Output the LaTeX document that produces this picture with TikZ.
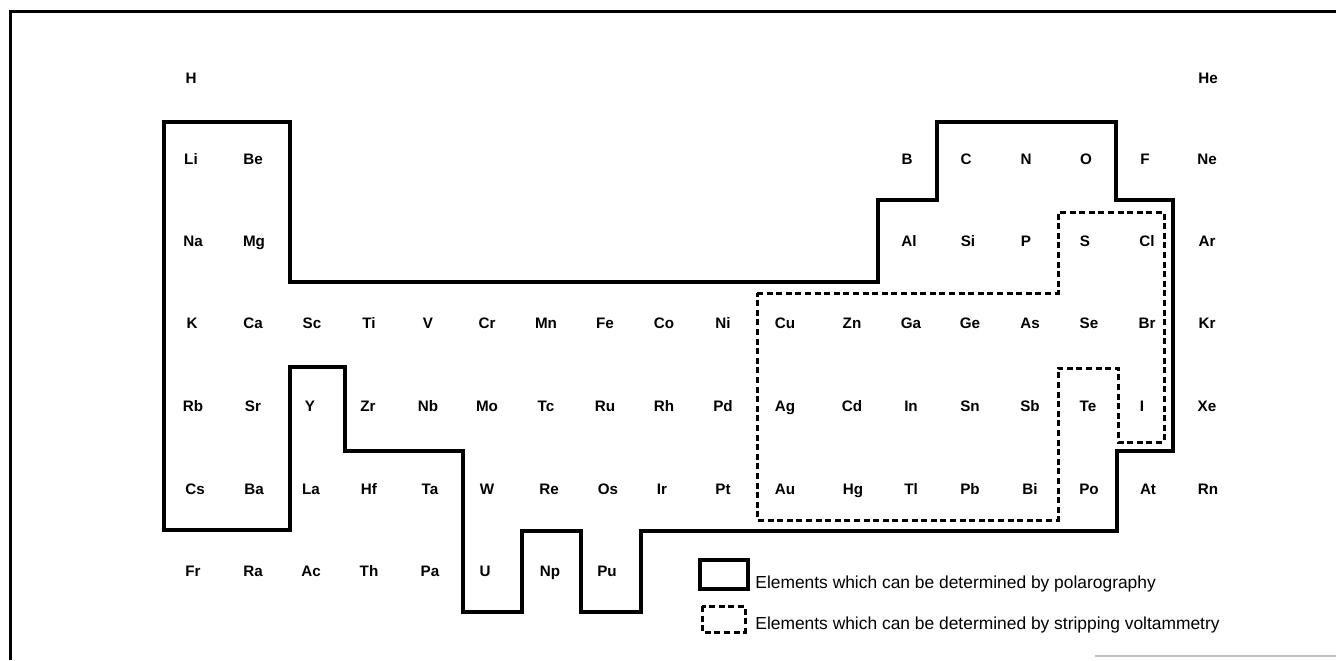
\documentclass[tikz,border=0pt]{standalone}
\usepackage{fontspec}
\setmainfont{Liberation Sans}

\begin{document}
\begin{tikzpicture}[x=0.5pt, y=-0.5pt,
		% symboles des elements
		elem/.style={
			font=\fontsize{7.6}{9}\selectfont\bfseries,
			inner sep=0pt,
			anchor=base
		},
		% textes de la legende
		legendtext/.style={
			font=\fontsize{8.7}{10}\selectfont,
			inner sep=0pt,
			anchor=base west
		},
		% contour : polarographie
		polaro/.style={line width=1.7pt, line join=miter},
		% contour : voltammetrie par redissolution
		stripping/.style={line width=1.5pt, dash pattern=on 3pt off 1.8pt},
		framestyle/.style={line width=1.5pt}
		]
		\useasboundingbox (0,0) rectangle (1336,660);
		
		% --- CADRE ---
		\draw[framestyle] (10,660) -- (10,11) -- (1336,11);
		\draw[gray!50, line width=0.6pt] (1095,656) -- (1336,656);
		
		% --- ELEMENTS ---
		\foreach \s/\x in {H/191, He/1208}
			\node[elem] (\s) at (\x,83) {\s};
		\foreach \s/\x in {Li/191, Be/253, B/907, C/966, N/1026, O/1086, F/1145, Ne/1207}
			\node[elem] (\s) at (\x,164) {\s};
		\foreach \s/\x in {Na/193, Mg/254, Al/909, Si/968, P/1026, S/1085, Cl/1147, Ar/1207}
			\node[elem] (\s) at (\x,246) {\s};
		\foreach \s/\x in {K/192, Ca/253, Sc/312, Ti/369, V/428, Cr/487, Mn/546, Fe/605, Co/664, Ni/723,
			Cu/785, Zn/852, Ga/911, Ge/970, As/1030, Se/1089, Br/1147, Kr/1207}
			\node[elem] (\s) at (\x,328) {\s};
		\foreach \s/\x in {Rb/193, Sr/253, Y/310, Zr/368, Nb/428, Mo/487, Tc/546, Ru/605, Rh/664, Pd/723,
			Ag/785, Cd/852, In/911, Sn/970, Sb/1030, Te/1088, I/1142, Xe/1207}
			\node[elem] (\s) at (\x,411) {\s};
		\foreach \s/\x in {Cs/195, Ba/254, La/311, Hf/369, Ta/430, W/487, Re/549, Os/608, Ir/662, Pt/723,
			Au/785, Hg/853, Tl/911, Pb/970, Bi/1030, Po/1089, At/1148, Rn/1208}
			\node[elem] (\s) at (\x,494) {\s};
		\foreach \s/\x in {Fr/193, Ra/253, Ac/311, Th/369, Pa/430, U/485, Np/550, Pu/607}
			\node[elem] (\s) at (\x,576) {\s};
		
		% --- CONTOUR POLAROGRAPHIE ---
		\draw[polaro] (164,122) -- (290,122) -- (290,282) -- (878,282) -- (878,200) -- (937,200)
			-- (937,122) -- (1116,122) -- (1116,200) -- (1173,200) -- (1173,451) -- (1117,451)
			-- (1117,531) -- (641,531) -- (641,612) -- (581,612) -- (581,531) -- (522,531)
			-- (522,612) -- (463,612) -- (463,451) -- (345,451) -- (345,367) -- (290,367)
			-- (290,530) -- (164,530) -- cycle;
		
		% --- CONTOUR VOLTAMMETRIE ---
		\draw[stripping] (757,293) -- (1058,293) -- (1058,212) -- (1164,212) -- (1164,442)
			-- (1118,442) -- (1118,368) -- (1058,368) -- (1058,520) -- (757,520) -- cycle;
		
		% --- LEGENDE ---
		\draw[polaro] (700,560) rectangle (748,589);
		\node[legendtext] (legpolaro) at (755,588) {Elements which can be determined by polarography};
		\draw[stripping] (702,606) rectangle (745,632);
		\node[legendtext] (legstrip) at (755,629) {Elements which can be determined by stripping voltammetry};
		
	\end{tikzpicture}
\end{document}
